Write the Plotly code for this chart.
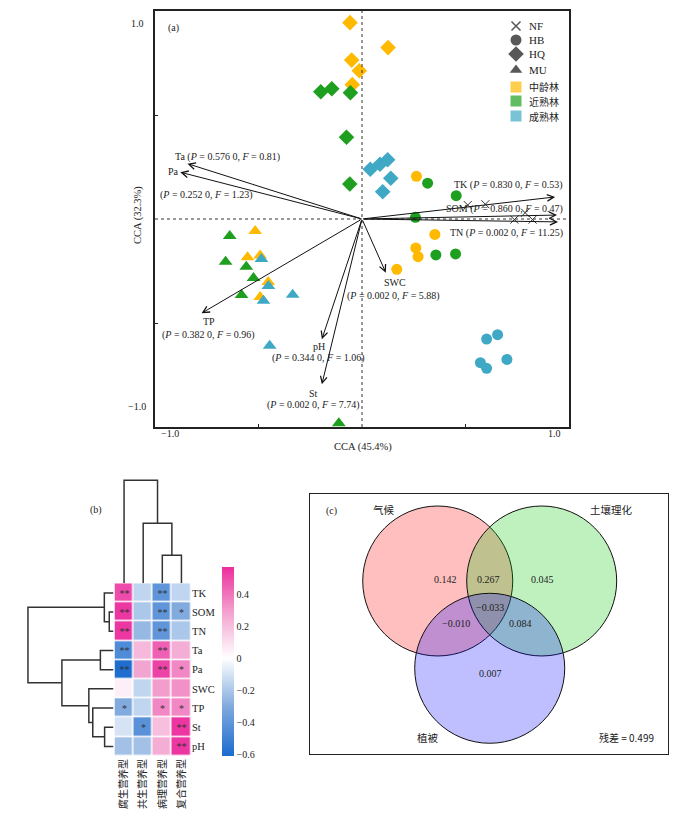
import plotly.graph_objects as go

W, H = 700, 816
OFF = 8  # page body margin of the browser
FW, FH = W - OFF, H - OFF
def px(x): return (x - OFF) / FW
def py(y): return 1 - (y - OFF) / FH

SERIF = "Liberation Serif, Noto Sans CJK SC"
CJK = "Noto Sans CJK SC, Liberation Serif"
ORANGE = "#FFB900"
GREEN = "#1F9F1F"
BLUE = "#3FA9C5"

# ---------------- Panel (a) data: CCA site scores ----------------
hq_mid_x = [-0.058, 0.126, -0.050, -0.013, -0.047]
hq_mid_y = [0.944, 0.824, 0.764, 0.713, 0.646]
hq_near_x = [-0.199, -0.146, -0.056, -0.075, -0.059]
hq_near_y = [0.612, 0.626, 0.607, 0.393, 0.168]
hq_mat_x = [0.040, 0.087, 0.124, 0.139, 0.100]
hq_mat_y = [0.239, 0.263, 0.285, 0.196, 0.131]

hb_mid_x = [0.263, 0.352, 0.260, 0.271, 0.168]
hb_mid_y = [0.205, -0.074, -0.139, -0.181, -0.242]
hb_near_x = [0.317, 0.455, 0.258, 0.357, 0.452]
hb_near_y = [0.172, 0.112, 0.008, -0.173, -0.168]
hb_mat_x = [0.602, 0.655, 0.700, 0.572, 0.602]
hb_mat_y = [-0.577, -0.556, -0.675, -0.691, -0.718]

mu_mid_x = [-0.516, -0.553, -0.492, -0.453, -0.492]
mu_mid_y = [-0.058, -0.184, -0.175, -0.303, -0.375]
mu_near_x = [-0.639, -0.659, -0.559, -0.524, -0.582, -0.112]
mu_near_y = [-0.082, -0.205, -0.229, -0.284, -0.365, -0.982]
mu_mat_x = [-0.486, -0.452, -0.476, -0.335, -0.446]
mu_mat_y = [-0.192, -0.322, -0.393, -0.364, -0.609]

nf_x = [0.511, 0.596, 0.788, 0.736, 0.824]
nf_y = [0.067, 0.071, 0.030, -0.003, -0.003]

# environmental vectors
env_names = ["Ta", "Pa", "TK", "SOM", "TN", "TP", "pH", "St", "SWC"]
env_x = [-0.843, -0.878, 0.933, 0.942, 0.947, -0.775, -0.194, -0.194, 0.115]
env_y = [0.266, 0.225, 0.106, 0.019, -0.014, -0.453, -0.578, -0.795, -0.258]
env_p = ["0.576 0", "0.252 0", "0.830 0", "0.860 0", "0.002 0", "0.382 0", "0.344 0", "0.002 0", "0.002 0"]
env_f = ["0.81", "1.23", "0.53", "0.47", "11.25", "0.96", "1.06", "7.74", "5.88"]

legend_labels = ["NF", "HB", "HQ", "MU", "中龄林", "近熟林", "成熟林"]

# ---------------- Panel (b) data ----------------
row_names = ["TK", "SOM", "TN", "Ta", "Pa", "SWC", "TP", "St", "pH"]
col_names = ["腐生营养型", "共生营养型", "病理营养型", "复合营养型"]
corr = [
    [0.50, -0.15, -0.40, -0.15],
    [0.55, -0.20, -0.40, -0.30],
    [0.55, -0.25, -0.40, -0.20],
    [-0.45, 0.22, 0.45, 0.25],
    [-0.60, 0.28, 0.52, 0.35],
    [0.05, -0.15, 0.30, 0.33],
    [-0.30, -0.15, 0.35, 0.35],
    [-0.10, -0.42, 0.20, 0.55],
    [-0.22, -0.22, 0.25, 0.55],
]
sig = [
    ["**", "", "**", ""],
    ["**", "", "**", "*"],
    ["**", "", "**", ""],
    ["**", "", "**", ""],
    ["**", "", "**", "*"],
    ["", "", "", ""],
    ["*", "", "*", "*"],
    ["", "*", "", "**"],
    ["", "", "", "**"],
]
# dendrograms: (height, left, right); leaves are indices
row_tree = (86.7, (9.3, 0, (4.3, 1, 2)), (52.3, (13.3, 3, 4), (25.0, 5, (21.0, 6, (9.0, 7, 8)))))
col_tree = (103.0, 0, (60.0, 1, (28.0, 2, 3)))
cbar_ticks = [-0.6, -0.4, -0.2, 0, 0.2, 0.4]

# ---------------- Panel (c) data ----------------
venn_sets = ["气候", "土壤理化", "植被"]
venn_values = ["0.142", "0.267", "0.045", "−0.033", "−0.010", "0.084", "0.007"]
residual = "0.499"

fig = go.Figure()

# ===== Panel (a) =====
def add_pts(xs, ys, sym, col, size):
    fig.add_trace(go.Scatter(x=xs, y=ys, mode="markers", xaxis="x", yaxis="y",
                             marker=dict(symbol=sym, color=col, size=size, line=dict(width=0)),
                             showlegend=False, hoverinfo="skip"))

add_pts(hq_mid_x, hq_mid_y, "diamond", ORANGE, 12)
add_pts(hq_near_x, hq_near_y, "diamond", GREEN, 12)
add_pts(hq_mat_x, hq_mat_y, "diamond", BLUE, 12)
add_pts(hb_mid_x, hb_mid_y, "circle", ORANGE, 11)
add_pts(hb_near_x, hb_near_y, "circle", GREEN, 11)
add_pts(hb_mat_x, hb_mat_y, "circle", BLUE, 11)
add_pts(mu_mid_x, mu_mid_y, "triangle-up", ORANGE, 12)
add_pts(mu_near_x, mu_near_y, "triangle-up", GREEN, 12)
add_pts(mu_mat_x, mu_mat_y, "triangle-up", BLUE, 12)
fig.add_trace(go.Scatter(x=nf_x, y=nf_y, mode="markers", xaxis="x", yaxis="y",
                         marker=dict(symbol="x-thin", size=8, line=dict(width=1, color="#333")),
                         showlegend=False, hoverinfo="skip"))

annotations = []
shapes = []
for xv, yv in zip(env_x, env_y):
    annotations.append(dict(x=xv, y=yv, ax=0, ay=0, xref="x", yref="y", axref="x", ayref="y",
                            showarrow=True, arrowhead=5, arrowsize=1.3, arrowwidth=1,
                            arrowcolor="#111", text=""))

def lab(name_idx):
    return f"(<i>P</i> = {env_p[name_idx]}, <i>F</i> = {env_f[name_idx]})"

def ann_a(text, x, y, anchor="center", size=10):
    annotations.append(dict(x=x, y=y, xref="x", yref="y", text=text, showarrow=False,
                            xanchor=anchor, yanchor="middle",
                            font=dict(family=SERIF, size=size, color="#222")))

ann_a(f"Ta {lab(0)}", -0.913, 0.298, "left")
ann_a("Pa", -0.947, 0.226, "left")
ann_a(lab(1), -0.986, 0.115, "left")
ann_a(f"TK {lab(2)}", 0.981, 0.163, "right")
ann_a(f"SOM {lab(3)}", 0.981, 0.048, "right")
ann_a(f"TN {lab(4)}", 0.981, -0.067, "right")
ann_a("TP", -0.739, -0.494)
ann_a(lab(5), -0.740, -0.558)
ann_a("pH", -0.210, -0.611)
ann_a(lab(6), -0.212, -0.670)
ann_a("St", -0.234, -0.838)
ann_a(lab(7), -0.236, -0.894)
ann_a("SWC", 0.159, -0.303)
ann_a(lab(8), 0.154, -0.370)
ann_a("(a)", -0.909, 0.918)

# dotted zero lines
shapes.append(dict(type="line", xref="x", yref="y", x0=0, x1=0, y0=-1, y1=1,
                   line=dict(color="#333", width=1, dash="dot")))
shapes.append(dict(type="line", xref="x", yref="y", x0=-1, x1=1, y0=0, y1=0,
                   line=dict(color="#333", width=1, dash="dot")))

def ann_px(text, x, y, anchor="center", size=10, family=SERIF, angle=0, color="#222"):
    annotations.append(dict(x=px(x), y=py(y), xref="paper", yref="paper", text=text,
                            showarrow=False, xanchor=anchor, yanchor="middle", textangle=angle,
                            font=dict(family=family, size=size, color=color)))

ann_px("1.0", 137, 23)
ann_px("−1.0", 137, 406)
ann_px("−1.0", 170, 433)
ann_px("1.0", 554, 433)
ann_px("CCA (45.4%)", 363, 447, size=10.5)
ann_px("CCA (32.3%)", 138, 215, size=10.5, angle=-90)

# legend of panel (a) on a pixel overlay axis
leg_y = [26, 40, 54, 70, 87, 101, 116]
leg_sym = ["x-thin", "circle", "diamond", "triangle-up", "square", "square", "square"]
leg_col = ["#111", "#111", "#111", "#111", ORANGE, GREEN, BLUE]
leg_size = [9, 11, 12, 11, 11, 11, 11]
fig.add_trace(go.Scatter(x=[516] * 7, y=leg_y, mode="markers", xaxis="x6", yaxis="y6",
                         marker=dict(symbol=leg_sym, color=leg_col, size=leg_size,
                                     line=dict(width=[1.5, 0, 0, 0, 0, 0, 0], color="#111")),
                         showlegend=False, hoverinfo="skip"))
for t, yy in zip(legend_labels, leg_y):
    ann_px(t, 527, yy, anchor="left", size=11 if t.isascii() else 10,
           family=SERIF if t.isascii() else CJK)

# ===== Panel (b) =====
HX0, HX1, HY0, HY1 = 114.5, 191, 583.3, 756
fig.add_trace(go.Heatmap(
    z=corr, x=list(range(4)), y=list(range(9)), text=sig, texttemplate="%{text}",
    textfont=dict(size=10, color="#333", family=SERIF),
    xaxis="x2", yaxis="y2", xgap=1.5, ygap=1.5, zmin=-0.61, zmax=0.57,
    colorscale=[[0, "#1B6BCF"], [0.61 / 1.18 * 0.5, "#7FA9DE"], [0.61 / 1.18, "#FFFFFF"],
                [0.61 / 1.18 + 0.5 * 0.57 / 1.18, "#F3A3D0"], [1, "#EC2E9E"]],
    hoverinfo="skip",
    colorbar=dict(x=px(222), xanchor="left", y=py(661.5), yanchor="middle",
                  len=189, lenmode="pixels", thickness=12, thicknessmode="pixels",
                  outlinewidth=0, xpad=0, ypad=0, tickvals=cbar_ticks,
                  ticktext=["−0.6", "−0.4", "−0.2", "0", "0.2", "0.4"],
                  ticks="", tickfont=dict(family=SERIF, size=10, color="#222"))))

def dendro_segments(tree):
    segs = []
    def rec(node):
        if isinstance(node, int):
            return float(node), 0.0
        h, l, r = node
        pl, hl = rec(l)
        pr, hr = rec(r)
        segs.append(([pl, pl, pr, pr], [hl, h, h, hr]))
        return (pl + pr) / 2, h
    rec(tree)
    return segs

rx, ry = [], []
for pos, hts in dendro_segments(row_tree):
    rx += hts + [None]
    ry += pos + [None]
fig.add_trace(go.Scatter(x=rx, y=ry, mode="lines", xaxis="x4", yaxis="y4",
                         line=dict(color="#333", width=1.5), showlegend=False, hoverinfo="skip"))
cx, cy = [], []
for pos, hts in dendro_segments(col_tree):
    cx += pos + [None]
    cy += hts + [None]
fig.add_trace(go.Scatter(x=cx, y=cy, mode="lines", xaxis="x5", yaxis="y5",
                         line=dict(color="#333", width=1.5), showlegend=False, hoverinfo="skip"))

ann_px("(b)", 96, 510, size=10)

# ===== Panel (c) =====
centers = [(-0.693, 0.0), (0.693, 0.0), (0.0, -1.164)]
fills = ["rgba(255,0,0,0.25)", "rgba(0,200,0,0.25)", "rgba(0,0,255,0.25)"]
for (ccx, ccy), fc in zip(centers, fills):
    shapes.append(dict(type="circle", xref="x3", yref="y3", x0=ccx - 1, x1=ccx + 1,
                       y0=ccy - 1, y1=ccy + 1, fillcolor=fc, line=dict(color="#111", width=1)))
val_pos = [(-0.583, 0.023), (-0.019, 0.023), (0.707, 0.023), (0.004, -0.351),
           (-0.449, -0.564), (0.417, -0.564), (0.004, -1.24)]
for v, (vx, vy) in zip(venn_values, val_pos):
    annotations.append(dict(x=vx, y=vy, xref="x3", yref="y3", text=v, showarrow=False,
                            font=dict(family=SERIF, size=10, color="#222")))
set_pos = [(-1.409, 0.947), (1.627, 0.947), (-0.819, -2.093)]
for s, (sx, sy) in zip(venn_sets, set_pos):
    annotations.append(dict(x=sx, y=sy, xref="x3", yref="y3", text=s, showarrow=False,
                            font=dict(family=CJK, size=10.5, color="#222")))
annotations.append(dict(x=-2.107, y=0.937, xref="x3", yref="y3", text="(c)", showarrow=False,
                        font=dict(family=SERIF, size=10, color="#222")))
annotations.append(dict(x=1.823, y=-2.093, xref="x3", yref="y3", text=f"残差 = {residual}",
                        showarrow=False, font=dict(family=CJK, size=10, color="#222")))

hidden = dict(visible=False, showgrid=False, zeroline=False)
fig.update_layout(
    width=FW, height=FH, margin=dict(l=0, r=0, t=0, b=0),
    paper_bgcolor="white", plot_bgcolor="rgba(0,0,0,0)",
    showlegend=False,
    xaxis=dict(domain=[px(155), px(569)], range=[-1, 1], showgrid=False, zeroline=False,
               showline=True, mirror=True, linecolor="#222", linewidth=1.5,
               tickvals=[-0.5, 0.5], ticks="inside", ticklen=3, tickcolor="#222",
               showticklabels=False, anchor="y"),
    yaxis=dict(domain=[py(427), py(11)], range=[-1, 1], showgrid=False, zeroline=False,
               showline=True, mirror=True, linecolor="#222", linewidth=1.5,
               tickvals=[-0.5, 0.5], ticks="inside", ticklen=3, tickcolor="#222",
               showticklabels=False, anchor="x"),
    xaxis2=dict(domain=[px(HX0), px(HX1)], range=[-0.5, 3.5], anchor="y2",
                tickvals=list(range(4)), ticktext=col_names, tickangle=-90,
                tickfont=dict(family=CJK, size=10, color="#222"), ticks="",
                showgrid=False, zeroline=False, showline=False),
    yaxis2=dict(domain=[py(HY1), py(HY0)], range=[8.5, -0.5], anchor="x2", side="right",
                tickvals=list(range(9)), ticktext=row_names, ticks="",
                tickfont=dict(family=SERIF, size=10.5, color="#222"),
                showgrid=False, zeroline=False, showline=False),
    xaxis4=dict(domain=[px(26), px(113.5)], range=[88.7, 0], anchor="y4", **hidden),
    yaxis4=dict(domain=[py(HY1), py(HY0)], range=[8.5, -0.5], anchor="x4", **hidden),
    xaxis5=dict(domain=[px(HX0), px(HX1)], range=[-0.5, 3.5], anchor="y5", **hidden),
    yaxis5=dict(domain=[py(HY0), py(HY0 - 106)], range=[0, 106], anchor="x5", **hidden),
    xaxis3=dict(domain=[px(310), px(668)], range=[-2.396, 2.377], anchor="y3",
                showgrid=False, zeroline=False, showticklabels=False, ticks="",
                showline=True, mirror=True, linecolor="#222", linewidth=1),
    yaxis3=dict(domain=[py(754), py(494)], range=[-2.307, 1.16], anchor="x3",
                showgrid=False, zeroline=False, showticklabels=False, ticks="",
                showline=True, mirror=True, linecolor="#222", linewidth=1),
    xaxis6=dict(domain=[0, 1], range=[OFF, W], anchor="y6", **hidden),
    yaxis6=dict(domain=[0, 1], range=[H, OFF], anchor="x6", **hidden),
    annotations=annotations, shapes=shapes,
)

fig.write_html("out.html")
